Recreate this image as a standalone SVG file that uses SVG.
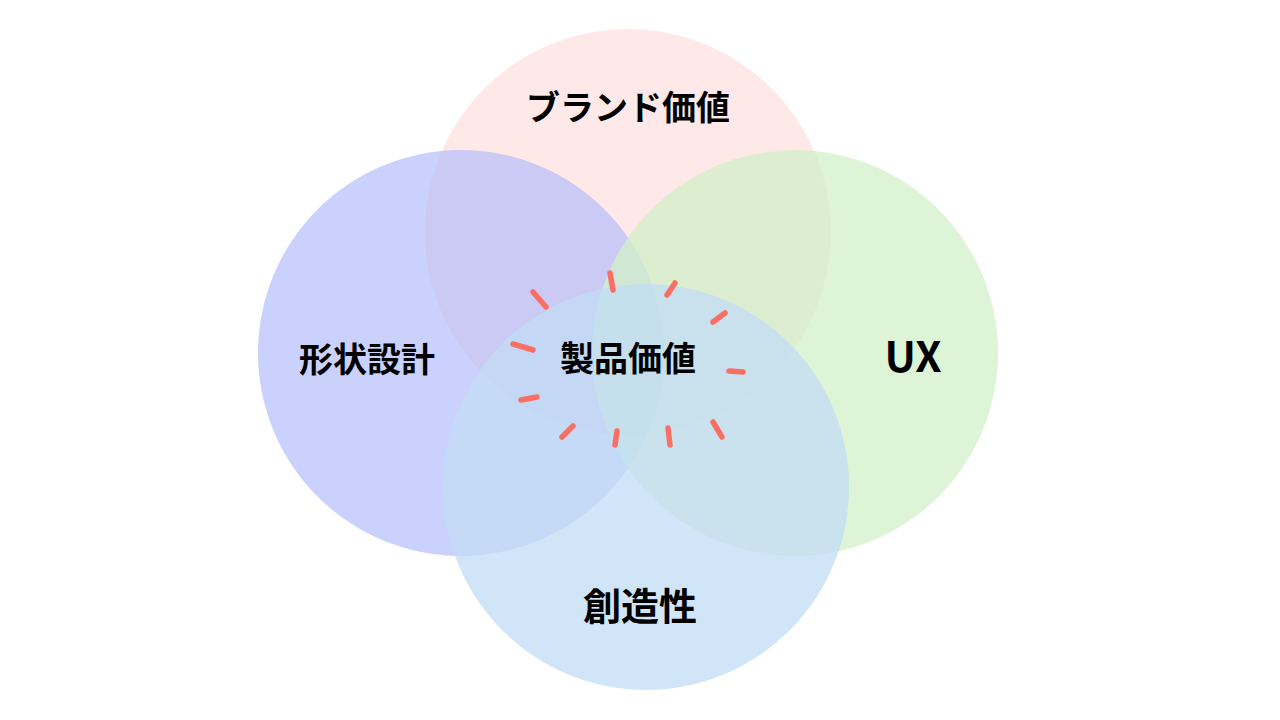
<svg xmlns="http://www.w3.org/2000/svg" width="1280" height="720" viewBox="0 0 1280 720">
<style>
.t{font-family:"Noto Sans CJK JP","Noto Sans",sans-serif;font-weight:bold;fill:#000;text-anchor:middle}
.d{stroke:#fa6f63;stroke-width:5.5;stroke-linecap:round;fill:none}
</style>
<rect width="1280" height="720" fill="#fff"/>
<g id="brand"><circle cx="628" cy="232" r="203" fill="#fde0e0" opacity="0.75"/></g>
<g id="shape"><circle cx="461" cy="353" r="203" fill="#b4befb" opacity="0.7"/></g>
<g id="ux"><circle cx="795" cy="353" r="203" fill="#d2f0c8" opacity="0.75"/></g>
<g id="creativity"><circle cx="646" cy="487" r="203" fill="#c2dcf6" opacity="0.75"/></g>
<g id="connectors">
<path class="d" d="M533 292L546 307M610 273L613 290M675 283L667 295M725 313L713 322M513 344L533 350M729 371L743 372M521 400L537 397M573 426L562 437M617 431L615 445M668 428L670 445M713 422L722 437"/>
</g>
<text class="t" x="628" y="120" font-size="34">ブランド価値</text>
<text class="t" x="367" y="372" font-size="34">形状設計</text>
<text class="t" x="913" y="372" font-size="42">UX</text>
<text class="t" x="628" y="371" font-size="34">製品価値</text>
<text class="t" x="640" y="620" font-size="38">創造性</text>
</svg>
